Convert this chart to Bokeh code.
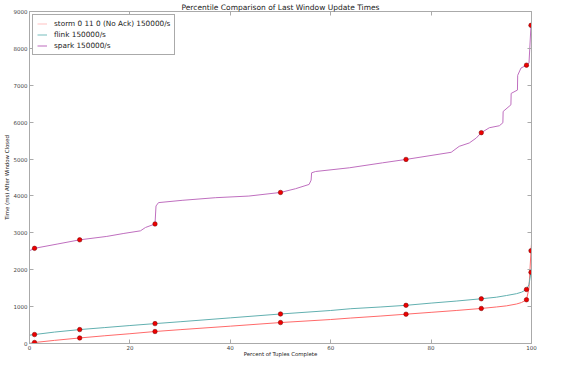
from bokeh.plotting import figure
from bokeh.models import (Range1d, LinearAxis, SingleIntervalTicker, Legend, LegendItem,
                          CustomJSTickFormatter)
from bokeh.embed import file_html
from bokeh.resources import INLINE

# ---- data ----
storm_pct = [0, 1, 5, 10, 15, 20, 25, 30, 40, 50, 60, 64, 70, 75, 80, 85, 90, 93, 95, 97, 98, 99, 99.5, 99.9, 100]
storm_ms = [5, 27, 85, 150, 210, 265, 325, 375, 470, 568, 650, 690, 745, 795, 845, 895, 950, 990, 1020, 1070, 1110, 1186, 1500, 2515, 2700]

flink_pct = [0, 1, 5, 10, 15, 20, 25, 30, 40, 50, 60, 64, 70, 75, 80, 85, 90, 93, 95, 97, 98, 99, 99.5, 99.9, 100]
flink_ms = [225, 243, 310, 377, 432, 487, 539, 590, 695, 800, 895, 943, 990, 1035, 1095, 1150, 1213, 1255, 1300, 1350, 1390, 1465, 1600, 1930, 2000]

spark_pct = [0, 1, 5.5, 10, 15.4, 18.8, 22.1, 23.1, 25, 25.2, 25.7, 30.4, 37.1, 43.7, 50, 53, 55.7, 56.1, 56.2, 57,
             63.7, 70.3, 75, 84, 85.6, 87.6, 89, 90, 91.6, 93.6, 94.3, 94.35, 95.9, 95.95, 97.2, 97.25, 97.9, 99,
             99.5, 99.9, 100]
spark_ms = [2515, 2580, 2695, 2810, 2903, 2984, 3054, 3145, 3240, 3728, 3819, 3881, 3953, 3997, 4095, 4196, 4312,
            4428, 4627, 4663, 4763, 4897, 4990, 5183, 5345, 5436, 5570, 5715, 5849, 5903, 5984, 6290, 6470, 6780,
            6870, 7270, 7466, 7545, 7600, 8625, 8700]

mark_pct = [1, 10, 25, 50, 75, 90, 99, 99.9]
storm_marks = [27, 150, 325, 568, 795, 950, 1186, 2515]
flink_marks = [243, 377, 539, 800, 1035, 1213, 1465, 1930]
spark_marks = [2580, 2810, 3240, 4095, 4990, 5715, 7545, 8625]

series_names = ["storm 0 11 0 (No Ack) 150000/s", "flink 150000/s", "spark 150000/s"]
x_ticks_interval = 20
y_ticks_interval = 1000

FONT = "DejaVu Sans"
FRAME = "#aaaaaa"

p = figure(width=547, height=359, output_backend="svg", toolbar_location=None,
           x_range=Range1d(0, 100), y_range=Range1d(0, 9000),
           min_border_left=23, min_border_right=16, min_border_bottom=0, min_border_top=0,
           background_fill_color="white", border_fill_color="white")
p.grid.visible = False
p.outline_line_color = FRAME

p.title.text = "Percentile Comparison of Last Window Update Times"
p.title.align = "center"
p.title.text_font = FONT
p.title.text_font_size = "7.5px"
p.title.text_font_style = "normal"
p.title.text_color = "#222222"
p.title.standoff = 0
p.title.offset = 0

def style_axis(ax, show_labels=True):
    ax.axis_line_color = FRAME
    ax.major_tick_line_color = FRAME
    ax.major_tick_in = 4
    ax.major_tick_out = 0
    ax.minor_tick_line_color = None
    ax.major_label_text_font = FONT
    ax.major_label_text_color = "#444444"
    ax.major_label_text_font_size = "5.5px"
    ax.axis_label_text_font = FONT
    ax.axis_label_text_font_size = "5.4px"
    ax.axis_label_text_font_style = "normal"
    ax.axis_label_text_color = "#222222"
    if show_labels:
        ax.major_label_standoff = 2
        ax.axis_label_standoff = 1
    else:
        ax.formatter = CustomJSTickFormatter(code="return ''")
        ax.major_label_standoff = 0
        ax.axis_label_standoff = 0

xa = p.xaxis[0]
ya = p.yaxis[0]
xa.ticker = SingleIntervalTicker(interval=x_ticks_interval, num_minor_ticks=0)
ya.ticker = SingleIntervalTicker(interval=y_ticks_interval, num_minor_ticks=0)
xa.axis_label = "Percent of Tuples Complete"
ya.axis_label = "Time (ms) After Window Closed"
style_axis(xa)
style_axis(ya)
xa.major_label_standoff = 1
xa.axis_label_standoff = -2

top_ax = LinearAxis(ticker=SingleIntervalTicker(interval=x_ticks_interval, num_minor_ticks=0))
right_ax = LinearAxis(ticker=SingleIntervalTicker(interval=y_ticks_interval, num_minor_ticks=0))
style_axis(top_ax, False)
style_axis(right_ax, False)
p.add_layout(top_ax, "above")
p.add_layout(right_ax, "right")

colors = ["#ff6a6a", "#62b0b0", "#bf6fbf"]
legend_colors = ["#ffcccc", "#8cc8c8", "#c883c8"]

p.line(storm_pct, storm_ms, line_color=colors[0], line_width=1)
p.line(flink_pct, flink_ms, line_color=colors[1], line_width=1)
p.line(spark_pct, spark_ms, line_color=colors[2], line_width=1)

for marks in (storm_marks, flink_marks, spark_marks):
    p.scatter(mark_pct, marks, size=4.5, fill_color="#ee0000", line_color="#700000", line_width=0.5)

# legend-only samples (kept below the visible range so they never show in the plot)
items = []
for name, c in zip(series_names, legend_colors):
    r = p.line([0, 1], [-5000, -5000], line_color=c, line_width=1.2)
    items.append(LegendItem(label=name, renderers=[r]))

legend = Legend(items=items, location="top_left")
legend.label_text_font = FONT
legend.label_text_font_size = "7.3px"
legend.label_text_color = "#222222"
legend.glyph_width = 10
legend.glyph_height = 9
legend.label_height = 9
legend.label_standoff = 7
legend.spacing = 2
legend.padding = 4
legend.margin = 3
legend.border_line_color = "#555555"
legend.border_line_width = 0.8
legend.background_fill_alpha = 1
p.add_layout(legend)

open("out.html", "w").write(file_html(p, INLINE))
